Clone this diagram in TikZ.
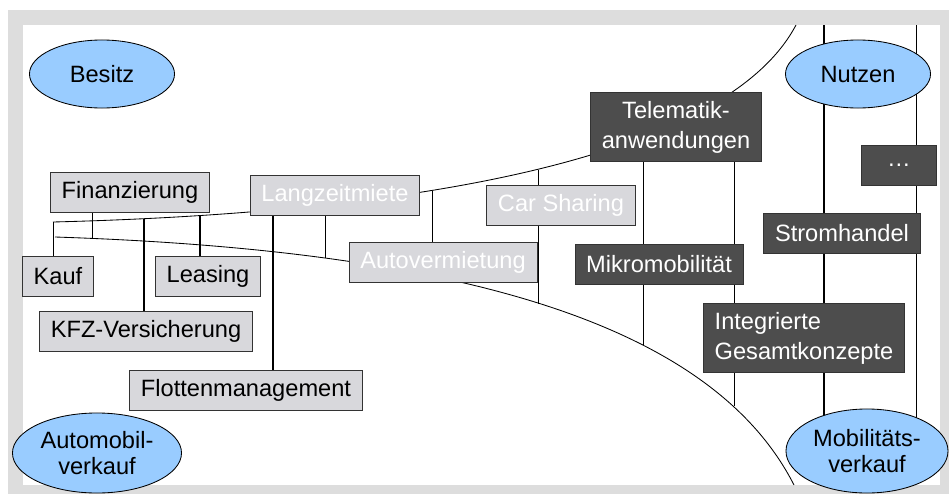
\documentclass[tikz,border=0pt]{standalone}
\usepackage{fontspec}
\setmainfont{Liberation Sans}
\usetikzlibrary{shapes.geometric}
\pgfdeclarelayer{frame}
\pgfdeclarelayer{lines}
\pgfsetlayers{frame,lines,main}
\definecolor{framegray}{RGB}{221,221,221}
\definecolor{boxgray}{RGB}{216,216,220}
\definecolor{boxdark}{RGB}{77,77,77}
\definecolor{goalblue}{RGB}{153,204,255}
\tikzset{
  every node/.style={font=\fontsize{16.8}{19}\selectfont},
  box/.style={
    rectangle, draw=black!80, line width=0.6pt,
    inner xsep=0.28cm, inner ysep=0pt, minimum height=1cm
  },
  lightbox/.style={box, fill=boxgray, text=black},
  fadedbox/.style={box, fill=boxgray, text=white},
  darkbox/.style={box, fill=boxdark, text=white},
  twoline/.style={font=\fontsize{16.8}{21.3}\selectfont, minimum height=1.725cm},
  goal/.style={
    ellipse, draw=black, line width=0.6pt, fill=goalblue,
    inner sep=0pt, align=center
  },
  thinline/.style={line width=0.6pt},
  thickline/.style={line width=1.6pt}
}
\begin{document}
\begin{tikzpicture}[x=0.025cm,y=-0.025cm]
    \useasboundingbox (0,0) rectangle (949,494);

    \node [goal, minimum width=3.625cm, minimum height=1.7cm] (besitz) at (102,74) {Besitz};
    \node [goal, minimum width=3.625cm, minimum height=1.7cm] (nutzen) at (858,74) {Nutzen};
    \node [goal, minimum width=4.225cm, minimum height=2cm] (autoverkauf) at (97,453) {Automobil-\\verkauf};
    \node [goal, minimum width=4.05cm, minimum height=2.1cm] (mobverkauf) at (867,451) {Mobilitäts-\\verkauf};

    \node [lightbox] (fin)     at (130,192) {Finanzierung};
    \node [lightbox] (kauf)    at (58,276)  {Kauf};
    \node [lightbox] (leasing) at (208,276) {Leasing};
    \node [lightbox] (kfz)     at (146,331) {KFZ-Versicherung};
    \node [lightbox] (flotte)  at (246,390) {Flottenmanagement};

    \node [fadedbox] (lzm)        at (335,195) {Langzeitmiete};
    \node [fadedbox] (carsharing) at (561,205) {Car Sharing};
    \node [fadedbox] (autoverm)   at (443,262) {Autovermietung};

    \node [darkbox, twoline, align=center] (telematik) at (676,127) {Telematik-\\anwendungen};
    \node [darkbox, minimum width=1.875cm] (dots) at (899,165) {…};
    \node [darkbox] (strom) at (842,233) {Stromhandel};
    \node [darkbox] (mikro) at (659,264) {Mikromobilität};
    \node [darkbox, twoline, align=left] (gesamt) at (804,338) {Integrierte\\Gesamtkonzepte};

    \coordinate (ul) at (53,222);
    \coordinate (ur) at (796,25);
    \coordinate (ll) at (55,237);
    \coordinate (lr) at (794,485);

    \coordinate (f1) at (92,238);
    \coordinate (k1) at (144,218.7);
    \coordinate (k2) at (200,215.4);
    \coordinate (k3) at (273,300);
    \coordinate (k4) at (325,258);
    \coordinate (a1) at (432,190.5);
    \coordinate (c1) at (538,169.5);
    \coordinate (c2) at (538,304);
    \coordinate (m1) at (643,345);
    \coordinate (m2) at (734,406);
    \coordinate (n1) at (824,25);
    \coordinate (n2) at (916,25);

    \begin{pgfonlayer}{frame}
      \fill [framegray] (8,10) rectangle (949,494);
      \fill [white] (23,25) rectangle (940,485);
    \end{pgfonlayer}

    \begin{pgfonlayer}{lines}
      \draw [thinline] (ul) .. controls (450,212) and (730,150) .. (ur);
      \draw [thinline] (ll) .. controls (450,250) and (710,320) .. (lr);

      \draw [thinline]  (ul) -- (ul |- kauf.north);
      \draw [thinline]  (f1 |- fin.south) -- (f1);
      \draw [thickline] (k1) -- (k1 |- kfz.north);
      \draw [thickline] (k2) -- (k2 |- leasing.north);
      \draw [thickline] (k3 |- lzm.south) -- (k3 |- flotte.north);
      \draw [thinline]  (k4 |- lzm.south) -- (k4);
      \draw [thinline]  (a1) -- (a1 |- autoverm.north);
      \draw [thinline]  (c1) -- (c2);

      \draw [thinline]  (m1 |- telematik.south) -- (m1);
      \draw [thinline]  (m2 |- telematik.south) -- (m2);
      \draw [thickline] (n1) -- (n1 |- mobverkauf.center);
      \draw [thinline]  (n2) -- (n2 |- mobverkauf.center);
    \end{pgfonlayer}
\end{tikzpicture}
\end{document}
